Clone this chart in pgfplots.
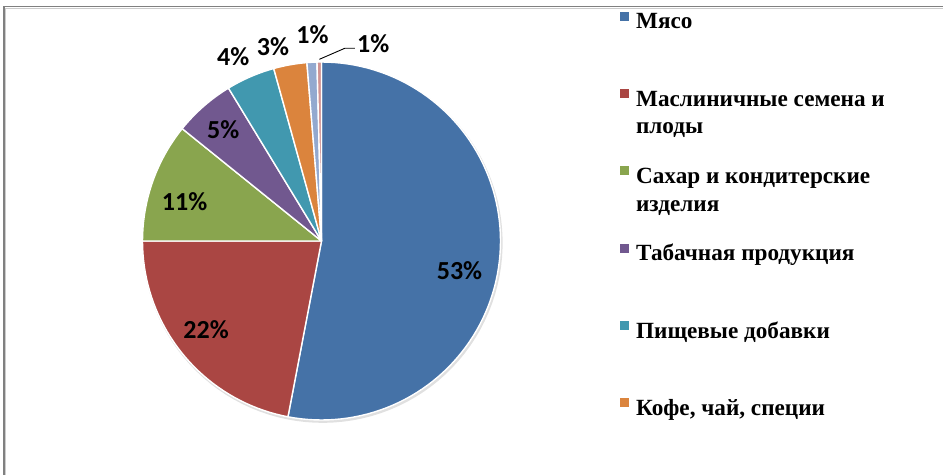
\documentclass[border=0pt]{standalone}
\usepackage{fontspec}
\setmainfont{Liberation Serif}
\newfontfamily\lblfont{Carlito}
\usepackage{pgfplots}
\pgfplotsset{compat=1.18}
\definecolor{colA}{HTML}{4572A7}
\definecolor{colB}{HTML}{AA4643}
\definecolor{colC}{HTML}{89A54E}
\definecolor{colD}{HTML}{71588F}
\definecolor{colE}{HTML}{4198AF}
\definecolor{colF}{HTML}{DB843D}
\definecolor{colG}{HTML}{93A9CF}
\definecolor{colH}{HTML}{D19392}
\pgfplotsset{slice/.style={fill=#1, draw=white, line width=1.4bp, line join=round}}
\tikzset{lbl/.style={font=\lblfont\bfseries\fontsize{26bp}{28bp}\selectfont, inner sep=0pt}}
\newcommand\entry[1]{\raisebox{0pt}[27bp][13bp]{\parbox[t]{280bp}{\raggedright #1}}}
\begin{document}
% shares of the pie, percent
\def\vA{53.0}\def\vB{22.0}\def\vC{10.8}\def\vD{5.5}%
\def\vE{4.4}\def\vF{3.0}\def\vG{0.9}\def\vH{0.4}%
% slice boundary angles (clockwise from 12 o'clock)
\pgfmathsetmacro\tA{90-3.6*\vA}%
\pgfmathsetmacro\tB{\tA-3.6*\vB}%
\pgfmathsetmacro\tC{\tB-3.6*\vC}%
\pgfmathsetmacro\tD{\tC-3.6*\vD}%
\pgfmathsetmacro\tE{\tD-3.6*\vE}%
\pgfmathsetmacro\tF{\tE-3.6*\vF}%
\pgfmathsetmacro\tG{\tF-3.6*\vG}%
\pgfmathsetmacro\tH{\tG-3.6*\vH}%
\begin{tikzpicture}
\begin{axis}[
  scale only axis, width=943bp, height=475bp,
  xmin=-1.7961, xmax=3.4721, ymin=-1.3073, ymax=1.3464,
  hide axis,
  legend cell align=left,
  legend image code/.code={\fill[#1,draw=none] (0bp,-4.5bp) rectangle (9bp,4.5bp);},
  legend style={at={(0.6576,0.9958)}, anchor=north west, draw=none, fill=none,
    inner sep=0pt, outer sep=0pt, row sep=48.8bp, column sep=7bp,
    nodes={inner sep=0pt, outer sep=0pt},
    font=\fontsize{23.2bp}{27.5bp}\selectfont\bfseries},
]
\coordinate (bbSW) at (rel axis cs:0,0);
\coordinate (bbNE) at (rel axis cs:1,1);
\addplot[fill=black!12, draw=none, domain=-180:180, samples=120, forget plot]
  ({1.006*cos(x)+0.006},{1.006*sin(x)-0.010}) -- cycle;
\addplot[slice=colA, domain=\tA:90, samples=90] ({cos(x)},{sin(x)}) -- (axis cs:0,0) -- cycle;
\addlegendentry{\entry{Мясо}}
\addplot[slice=colB, domain=\tB:\tA, samples=40] ({cos(x)},{sin(x)}) -- (axis cs:0,0) -- cycle;
\addlegendentry{\entry{Маслиничные семена и\newline плоды}}
\addplot[slice=colC, domain=\tC:\tB, samples=20] ({cos(x)},{sin(x)}) -- (axis cs:0,0) -- cycle;
\addlegendentry{\entry{Сахар и кондитерские\newline изделия}}
\addplot[slice=colD, domain=\tD:\tC, samples=12] ({cos(x)},{sin(x)}) -- (axis cs:0,0) -- cycle;
\addlegendentry{\entry{Табачная продукция}}
\addplot[slice=colE, domain=\tE:\tD, samples=10] ({cos(x)},{sin(x)}) -- (axis cs:0,0) -- cycle;
\addlegendentry{\entry{Пищевые добавки}}
\addplot[slice=colF, domain=\tF:\tE, samples=8] ({cos(x)},{sin(x)}) -- (axis cs:0,0) -- cycle;
\addlegendentry{\entry{Кофе, чай, специи}}
\addplot[slice=colG, domain=\tG:\tF, samples=4] ({cos(x)},{sin(x)}) -- (axis cs:0,0) -- cycle;
\addplot[slice=colH, domain=\tH:\tG, samples=3] ({cos(x)},{sin(x)}) -- (axis cs:0,0) -- cycle;
% data labels
\node[lbl] at (axis cs:0.771,-0.168) {53\%};
\node[lbl] at (axis cs:-0.645,-0.497) {22\%};
\node[lbl] at (axis cs:-0.765,0.221) {11\%};
\node[lbl] at (axis cs:-0.549,0.620) {5\%};
\node[lbl] at (axis cs:-0.493,1.030) {4\%};
\node[lbl] at (axis cs:-0.271,1.085) {3\%};
\node[lbl] at (axis cs:-0.050,1.151) {1\%};
\node[lbl, anchor=west] at (axis cs:0.198,1.10) {1\%};
\draw[black, line width=0.9bp] (axis cs:-0.012,1.015) -- (axis cs:0.131,1.077) -- (axis cs:0.187,1.077);
% frame of the screenshot
\draw[color=black!20, line width=1.5bp] (axis cs:-1.7642,-1.3073) -- (axis cs:-1.7642,1.300) -- (axis cs:3.4721,1.300);
\draw[color=black!50, line width=1.6bp] (axis cs:-1.7737,-1.3073) -- (axis cs:-1.7737,1.310) -- (axis cs:3.4721,1.310);
\end{axis}
\pgfresetboundingbox
\path[use as bounding box] (bbSW) rectangle (bbNE);
\end{tikzpicture}
\end{document}
